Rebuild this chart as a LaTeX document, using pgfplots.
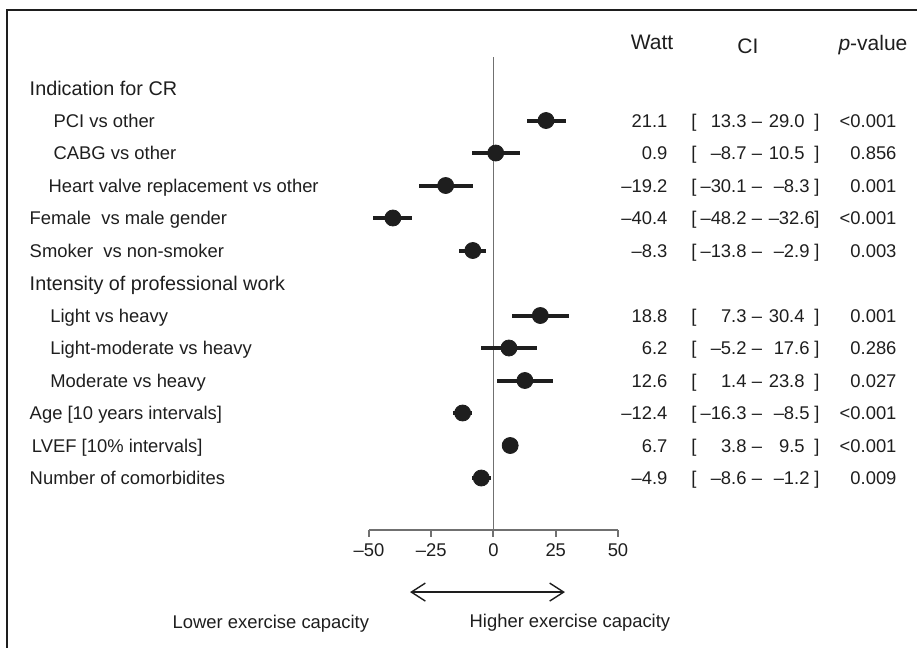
\documentclass[border=0pt]{standalone}
\usepackage{fontspec}
\setmainfont{Liberation Sans}
\usepackage{pgfplots}
\usepackage{pgfplotstable}
\pgfplotsset{compat=1.18}
\usetikzlibrary{arrows.meta}

\definecolor{ink}{HTML}{1E1E1E}
\definecolor{axisgray}{HTML}{707070}

\newcommand{\bodyfont}{\fontsize{9.2}{11}\selectfont}
\newcommand{\groupfont}{\fontsize{9.9}{12}\selectfont}
\newcommand{\headfont}{\fontsize{10.5}{12}\selectfont}

% row = line from the top, est / lo / hi in Watt
\pgfplotstableread{
row est lo hi
2 21.1 13.3 29.0
3 0.9 -8.7 10.5
4 -19.2 -30.1 -8.3
5 -40.4 -48.2 -32.6
6 -8.3 -13.8 -2.9
8 18.8 7.3 30.4
9 6.2 -5.2 17.6
10 12.6 1.4 23.8
11 -12.4 -16.3 -8.5
12 6.7 3.8 9.5
13 -4.9 -8.6 -1.2
}\forestdata

% one line of the table on the right
\newcommand{\statrow}[6]{%
  \node[num, anchor=base east] at (axis cs:70,-#1) {#2};
  \node[num, anchor=base west] at (axis cs:79.3,-#1) {[};
  \node[num, anchor=base east] at (axis cs:101.8,-#1) {#3};
  \node[num, anchor=base] at (axis cs:105.8,-#1) {–};
  \node[num, anchor=base east] at (axis cs:#5,-#1) {#4};
  \node[num, anchor=base east] at (axis cs:131.1,-#1) {]};
  \node[num, anchor=base east] at (axis cs:162,-#1) {#6};
}

\begin{document}
\begin{tikzpicture}[
  num/.style={font=\bodyfont, text=ink, inner sep=0pt, yshift=-3.3pt},
  lbl/.style={font=\bodyfont, text=ink, inner sep=0pt, yshift=-3.3pt, anchor=base west},
  grp/.style={font=\groupfont, text=ink, inner sep=0pt, yshift=-3.55pt, anchor=base west},
  head/.style={font=\headfont, text=ink, inner sep=0pt, yshift=-3.75pt, anchor=base},
  bottomtxt/.style={font=\bodyfont, text=ink, inner sep=0pt, yshift=-3.3pt, anchor=base},
]
\begin{axis}[
  scale only axis,
  width=124.5pt, height=236.25pt,
  xmin=-50, xmax=50,
  ymin=-14.585, ymax=-0.046,
  axis x line=bottom, axis y line=none,
  axis line style={axisgray, line width=1pt, -},
  xtick={-50,-25,0,25,50},
  xticklabels={–50,–25,0,25,50},
  ytick=\empty,
  tick align=outside,
  major tick length=3.5pt,
  tick style={axisgray, line width=1pt},
  ticklabel style={font=\bodyfont, text=ink},
  clip=false,
]

% line of no effect
\draw[axisgray, line width=0.8pt] (axis cs:0,-14.585) -- (axis cs:0,-0.046);

\addplot[only marks, mark=*, mark size=4pt, color=ink,
  error bars/.cd, x dir=both, x explicit,
  error mark=none, error bar style={line width=2pt, ink}]
  table[x=est, y expr=-\thisrow{row},
        x error plus expr=\thisrow{hi}-\thisrow{est},
        x error minus expr=\thisrow{est}-\thisrow{lo}] {\forestdata};

% row labels
\node[grp] at (axis cs:-186.4,-1) {Indication for CR};
\node[lbl] at (axis cs:-176.8,-2) {PCI vs other};
\node[lbl] at (axis cs:-176.8,-3) {CABG vs other};
\node[lbl] at (axis cs:-178.8,-4) {Heart valve replacement vs other};
\node[lbl] at (axis cs:-186.4,-5) {Female\ \ vs male gender};
\node[lbl] at (axis cs:-186.4,-6) {Smoker\ \ vs non-smoker};
\node[grp] at (axis cs:-186.4,-7) {Intensity of professional work};
\node[lbl] at (axis cs:-178.1,-8) {Light vs heavy};
\node[lbl] at (axis cs:-178.1,-9) {Light-moderate vs heavy};
\node[lbl] at (axis cs:-178.1,-10) {Moderate vs heavy};
\node[lbl] at (axis cs:-186.4,-11) {Age [10 years intervals]};
\node[lbl] at (axis cs:-185.5,-12) {LVEF [10\% intervals]};
\node[lbl] at (axis cs:-186.4,-13) {Number of comorbidites};

% column headers
\node[head] at (axis cs:63.7,0.415) {Watt};
\node[head] at (axis cs:102.2,0.292) {CI};
\node[head] at (axis cs:152.4,0.385) {\textit{p}-value};

% estimates, intervals, p-values
\statrow{2}{21.1}{13.3}{29.0}{125.1}{<0.001}
\statrow{3}{0.9}{–8.7}{10.5}{125.1}{0.856}
\statrow{4}{–19.2}{–30.1}{–8.3}{127.1}{0.001}
\statrow{5}{–40.4}{–48.2}{–32.6}{129.2}{<0.001}
\statrow{6}{–8.3}{–13.8}{–2.9}{127.1}{0.003}
\statrow{8}{18.8}{7.3}{30.4}{125.1}{0.001}
\statrow{9}{6.2}{–5.2}{17.6}{127.1}{0.286}
\statrow{10}{12.6}{1.4}{23.8}{125.1}{0.027}
\statrow{11}{–12.4}{–16.3}{–8.5}{127.1}{<0.001}
\statrow{12}{6.7}{3.8}{9.5}{125.1}{<0.001}
\statrow{13}{–4.9}{–8.6}{–1.2}{127.1}{0.009}

% direction arrow and captions
\draw[ink, line width=0.7pt, {Straight Barb[length=7pt,width=9pt]}-{Straight Barb[length=7pt,width=9pt]}]
  (axis cs:-33.5,-16.51) -- (axis cs:28.7,-16.51);
\node[bottomtxt] at (axis cs:-89.4,-17.43) {Lower exercise capacity};
\node[bottomtxt] at (axis cs:30.7,-17.40) {Higher exercise capacity};

% frame (top and left edges)
\draw[ink, line width=1.25pt] (axis cs:-195.3,-18.4) -- (axis cs:-195.3,1.4) -- (axis cs:172,1.4);

\coordinate (bbsw) at (axis cs:-198.19,-18.23);
\coordinate (bbne) at (axis cs:170.08,1.708);
\end{axis}
\pgfresetboundingbox
\useasboundingbox (bbsw) rectangle (bbne);
\end{tikzpicture}
\end{document}
